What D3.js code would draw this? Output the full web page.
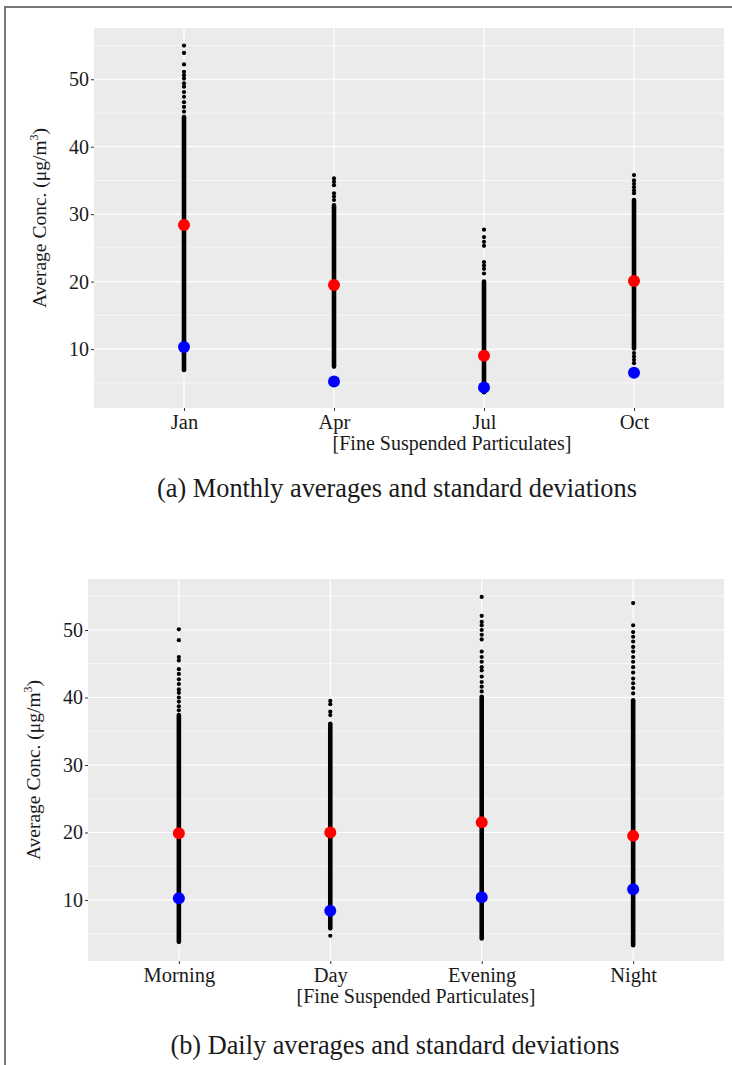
<!DOCTYPE html>
<html>
<head>
<meta charset="utf-8">
<script src="https://cdn.jsdelivr.net/npm/d3@7"></script>
<style>
  body { margin: 0; background: #fff; }
  text { font-family: "Liberation Serif", "Times New Roman", serif; fill: #1a1a1a; }
</style>
</head>
<body>
<div id="graph"></div>
<script>
var width = 732, height = 1065;

// (a) monthly
var months = ["Jan", "Apr", "Jul", "Oct"];
var monthMean = [28.4, 19.5, 9.0, 20.1];
var monthSd = [10.3, 5.2, 4.3, 6.5];
var monthLow = [6.9, 7.4, 3.6, 10.1];   // dense part of the hourly values
var monthHigh = [44.4, 31.3, 20.0, 32.1];
var monthSparse = [
  [55.0, 53.9, 52.2, 51.1, 50.6, 50.1, 49.4, 48.9, 48.1, 47.4, 46.6, 45.9, 45.2],
  [35.3, 34.8, 34.3, 33.1, 32.6, 32.1],
  [27.7, 26.6, 25.9, 25.3, 22.9, 22.4, 21.9, 21.2],
  [35.8, 35.0, 34.5, 34.0, 33.5, 33.1, 9.4, 8.9, 8.4, 7.9]
];

// (b) daily
var periods = ["Morning", "Day", "Evening", "Night"];
var periodMean = [19.9, 20.0, 21.5, 19.5];
var periodSd = [10.25, 8.4, 10.4, 11.6];
var periodLow = [3.8, 5.8, 4.3, 3.3];
var periodHigh = [37.4, 36.1, 40.1, 39.6];
var periodSparse = [
  [50.1, 48.5, 46.0, 45.5, 44.2, 43.5, 42.7, 42.0, 41.2, 40.7, 40.0, 39.4, 38.7, 38.1],
  [39.5, 39.0, 37.9, 37.4, 4.7],
  [54.9, 52.1, 51.2, 50.7, 50.0, 49.3, 48.6, 46.8, 46.0, 45.3, 44.5, 44.0, 43.1, 42.3, 41.6, 40.9],
  [54.0, 50.7, 49.7, 49.0, 48.3, 47.5, 46.8, 46.0, 45.3, 44.5, 43.7, 42.8, 42.1, 41.4, 40.6]
];

var yTicks = [10, 20, 30, 40, 50];
var yMinor = [5, 15, 25, 35, 45, 55];

var svg = d3.select('#graph').append('svg')
    .attr('width', width)
    .attr('height', height);

// frame lines (left and top)
svg.append("line").attr("x1", 5).attr("x2", 5).attr("y1", 7).attr("y2", height)
    .attr("stroke", "#777").attr("stroke-width", 2);
svg.append("line").attr("x1", 4).attr("x2", width).attr("y1", 7).attr("y2", 7)
    .attr("stroke", "#777").attr("stroke-width", 2);

function panel(o) {
  var x = d3.scalePoint().domain(o.cats).range([o.left, o.right]).padding(0.6);
  var y = d3.scaleLinear().domain(o.ydom).range([o.bottom, o.top]);
  var g = svg.append("g");

  g.append("rect")
      .attr("x", o.left).attr("y", o.top)
      .attr("width", o.right - o.left).attr("height", o.bottom - o.top)
      .attr("fill", "#ebebeb");

  g.selectAll(".minor").data(yMinor.filter(function(v) { return y(v) > o.top && y(v) < o.bottom; }))
    .enter().append("line")
      .attr("x1", o.left).attr("x2", o.right)
      .attr("y1", function(d) { return y(d); }).attr("y2", function(d) { return y(d); })
      .attr("stroke", "#fff").attr("stroke-width", 0.6);
  g.selectAll(".major").data(yTicks)
    .enter().append("line")
      .attr("x1", o.left).attr("x2", o.right)
      .attr("y1", function(d) { return y(d); }).attr("y2", function(d) { return y(d); })
      .attr("stroke", "#fff").attr("stroke-width", 1.2);
  g.selectAll(".vgrid").data(o.cats)
    .enter().append("line")
      .attr("x1", function(d) { return x(d); }).attr("x2", function(d) { return x(d); })
      .attr("y1", o.top).attr("y2", o.bottom)
      .attr("stroke", "#fff").attr("stroke-width", 1.2);

  // dense columns
  g.selectAll(".dense").data(o.cats)
    .enter().append("line")
      .attr("x1", function(d) { return x(d); }).attr("x2", function(d) { return x(d); })
      .attr("y1", function(d, i) { return y(o.low[i]); })
      .attr("y2", function(d, i) { return y(o.high[i]); })
      .attr("stroke", "#000").attr("stroke-width", 4.6).attr("stroke-linecap", "round");

  // sparse points
  o.cats.forEach(function(c, i) {
    g.selectAll(".sp" + i).data(o.sparse[i])
      .enter().append("circle")
        .attr("cx", x(c)).attr("cy", function(d) { return y(d); })
        .attr("r", 2.1).attr("fill", "#000");
  });

  g.selectAll(".mean").data(o.cats)
    .enter().append("circle")
      .attr("cx", function(d) { return x(d); })
      .attr("cy", function(d, i) { return y(o.mean[i]); })
      .attr("r", 6).attr("fill", "#ff0000");
  g.selectAll(".sd").data(o.cats)
    .enter().append("circle")
      .attr("cx", function(d) { return x(d); })
      .attr("cy", function(d, i) { return y(o.sd[i]); })
      .attr("r", 6).attr("fill", "#0000ff");

  // axes
  var ya = g.append("g").attr("transform", "translate(" + o.left + ",0)")
      .call(d3.axisLeft(y).tickValues(yTicks).tickSize(3).tickPadding(2));
  ya.select(".domain").remove();
  ya.selectAll("line").attr("stroke", "#333");
  ya.selectAll("text").attr("font-size", 20).attr("fill", "#1a1a1a");

  var xa = g.append("g").attr("transform", "translate(0," + o.bottom + ")")
      .call(d3.axisBottom(x).tickSize(3).tickPadding(3));
  xa.select(".domain").remove();
  xa.selectAll("line").attr("stroke", "#333");
  xa.selectAll("text").attr("font-size", 20.5).attr("fill", "#1a1a1a");

  var yt = g.append("text")
      .attr("transform", "translate(" + o.ytitleX + "," + (o.top + o.bottom) / 2 + ") rotate(-90)")
      .attr("text-anchor", "middle")
      .attr("font-size", 19.5);
  yt.append("tspan").text("Average Conc. (μg/m");
  yt.append("tspan").attr("font-size", 12).attr("dy", -8).text("3");
  yt.append("tspan").attr("dy", 8).text(")");

  g.append("text")
      .attr("x", o.xtitleX).attr("y", o.xtitleY)
      .attr("text-anchor", "middle")
      .attr("font-size", 20)
      .text("[Fine Suspended Particulates]");

  g.append("text")
      .attr("x", o.capX).attr("y", o.capY)
      .attr("text-anchor", "middle")
      .attr("font-size", 26.3)
      .text(o.caption);
}

panel({
  cats: months, mean: monthMean, sd: monthSd, low: monthLow, high: monthHigh, sparse: monthSparse,
  left: 94, right: 724, top: 28, bottom: 408, ydom: [1.26, 57.6],
  ytitleX: 46, xtitleX: 452, xtitleY: 450,
  capX: 397, capY: 497, caption: "(a) Monthly averages and standard deviations"
});

panel({
  cats: periods, mean: periodMean, sd: periodSd, low: periodLow, high: periodHigh, sparse: periodSparse,
  left: 88, right: 724, top: 579, bottom: 961, ydom: [0.96, 57.56],
  ytitleX: 40, xtitleX: 416, xtitleY: 1003,
  capX: 395, capY: 1054, caption: "(b) Daily averages and standard deviations"
});
</script>
</body>
</html>
